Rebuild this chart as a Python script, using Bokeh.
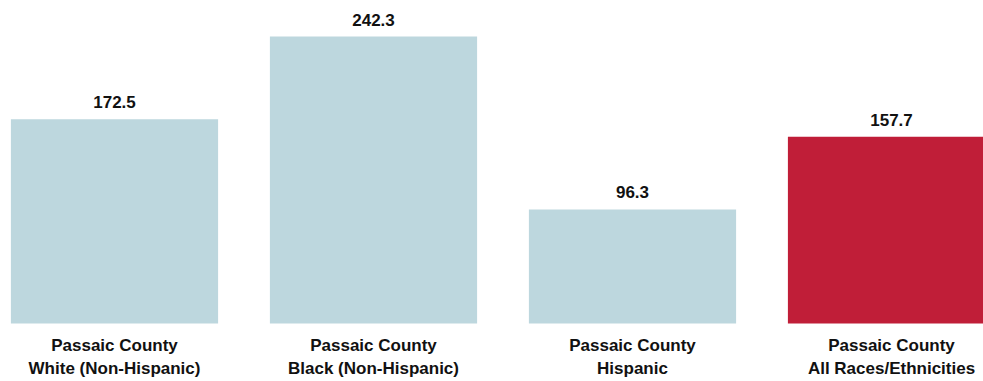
from bokeh.plotting import figure
from bokeh.models import Range1d, ColumnDataSource
from bokeh.core.properties import value
from bokeh.embed import file_html
from bokeh.resources import INLINE

# ---- data ----
group_line1 = ["Passaic County", "Passaic County", "Passaic County", "Passaic County"]
group_line2 = ["White (Non-Hispanic)", "Black (Non-Hispanic)", "Hispanic", "All Races/Ethnicities"]
rates = [172.5, 242.3, 96.3, 157.7]
colors = ["#BDD7DE", "#BDD7DE", "#BDD7DE", "#C01E38"]

xs = list(range(len(rates)))
src = ColumnDataSource(dict(
    x=xs,
    top=rates,
    color=colors,
    lab=[f"{v:.1f}" for v in rates],
    l1=group_line1,
    l2=group_line2,
    zero=[0] * len(rates),
))

W, H = 983, 381
BASE = 323  # baseline pixel row from top
p = figure(width=W, height=H, output_backend="svg", toolbar_location=None,
           min_border=0, min_border_left=0, min_border_right=0,
           min_border_top=0, min_border_bottom=0)
x0 = -114 / 259.0
p.x_range = Range1d(x0, x0 + W / 259.0)
scale = 287 / 242.3
p.y_range = Range1d(-(H - BASE) / scale, BASE / scale)

p.axis.visible = False
p.grid.visible = False
p.outline_line_color = None
p.background_fill_color = "white"
p.border_fill_color = "white"

p.vbar(x="x", top="top", bottom=0, width=0.8, fill_color="color", line_color=None, source=src)

font = value("Liberation Sans")
p.text(x="x", y="top", text="lab", source=src, text_align="center", text_baseline="alphabetic",
       y_offset=-17, text_font=font, text_font_style="bold", text_font_size="17px", text_color="#111111")
p.text(x="x", y="zero", text="l1", source=src, text_align="center", text_baseline="alphabetic",
       y_offset=22, text_font=font, text_font_style="bold", text_font_size="17px", text_color="#111111")
p.text(x="x", y="zero", text="l2", source=src, text_align="center", text_baseline="alphabetic",
       y_offset=45, text_font=font, text_font_style="bold", text_font_size="17px", text_color="#111111")

open("out.html", "w").write(file_html(p, INLINE))
